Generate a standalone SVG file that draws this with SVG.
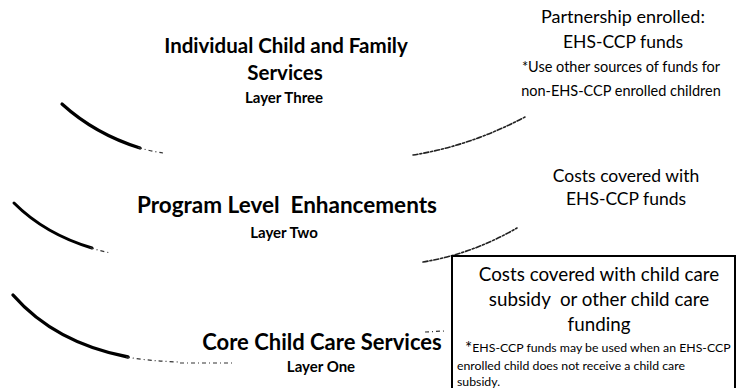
<svg xmlns="http://www.w3.org/2000/svg" width="736" height="388" viewBox="0 0 736 388">
<style>
.h{font-family:Lato,"Open Sans","DejaVu Sans",sans-serif;font-weight:bold;fill:#000;text-anchor:middle;white-space:pre}
.t{font-family:Lato,"Open Sans","DejaVu Sans",sans-serif;fill:#000;text-anchor:middle;white-space:pre}
.s{font-family:Lato,"Open Sans","DejaVu Sans",sans-serif;fill:#000}
.arcL{fill:none;stroke:#000;stroke-linecap:round}
.arcR{fill:none;stroke:#222;stroke-width:1.6;stroke-dasharray:5 2 2 2;stroke-linecap:round}
.tail{fill:none;stroke:#333;stroke-width:1.2;stroke-dasharray:4 3 1 3}
</style>
<g id="connectors">
  <path class="arcL" stroke-width="3.2" d="M62,104 Q95,134 140,148"/>
  <path class="tail" d="M138,147.5 Q150,151 163,153"/>
  <path class="arcR" d="M413,155 Q470,146 525,117"/>
  <path class="arcL" stroke-width="3" d="M14,203 Q45,234 92,248"/>
  <path class="tail" d="M90,247.5 Q100,251 111,253"/>
  <path class="arcR" d="M423,262 Q472,254 517,228"/>
  <path class="arcL" stroke-width="3.4" d="M13,295 Q55,343 128,357"/>
  <path class="tail" d="M126,357 Q150,361 178,362"/>
  <path class="tail" d="M180,363 L233,363"/>
  <path class="tail" d="M425,332 L444,331"/>
</g>
<g id="layer-three">
  <text class="h" x="286" y="53" font-size="20.5">Individual Child and Family</text>
  <text class="h" x="285" y="80" font-size="20.5">Services</text>
  <text class="h" x="284" y="103" font-size="15">Layer Three</text>
</g>
<g id="layer-three-funding">
  <text class="t" x="623" y="23" font-size="18">Partnership enrolled:</text>
  <text class="t" x="623" y="48" font-size="17.5">EHS-CCP funds</text>
  <text class="t" x="621" y="72" font-size="14.5">*Use other sources of funds for</text>
  <text class="t" x="621" y="96" font-size="14.5">non-EHS-CCP enrolled children</text>
</g>
<g id="layer-two">
  <text class="h" x="287" y="213" font-size="22.5">Program Level  Enhancements</text>
  <text class="h" x="284" y="238" font-size="15">Layer Two</text>
</g>
<g id="layer-two-funding">
  <text class="t" x="626" y="182" font-size="17.5">Costs covered with</text>
  <text class="t" x="626" y="205" font-size="17.5">EHS-CCP funds</text>
</g>
<g id="layer-one">
  <text class="h" x="322" y="350" font-size="22">Core Child Care Services</text>
  <text class="h" x="321" y="372" font-size="15">Layer One</text>
</g>
<g id="layer-one-funding">
  <rect x="452" y="256" width="283" height="150" fill="#fff" stroke="#000" stroke-width="2"/>
  <text class="t" x="599" y="281" font-size="18.8">Costs covered with child care</text>
  <text class="t" x="599" y="306" font-size="18.8">subsidy  or other child care</text>
  <text class="t" x="599" y="331" font-size="18.8">funding</text>
  <text class="s" x="465" y="352" font-size="12.3"><tspan font-size="17" dy="2">*</tspan><tspan dy="-2">EHS-CCP funds may be used when an EHS-CCP</tspan></text>
  <text class="s" x="457" y="370" font-size="12.3">enrolled child does not receive a child care</text>
  <text class="s" x="457" y="386" font-size="12.3">subsidy.</text>
</g>
</svg>
